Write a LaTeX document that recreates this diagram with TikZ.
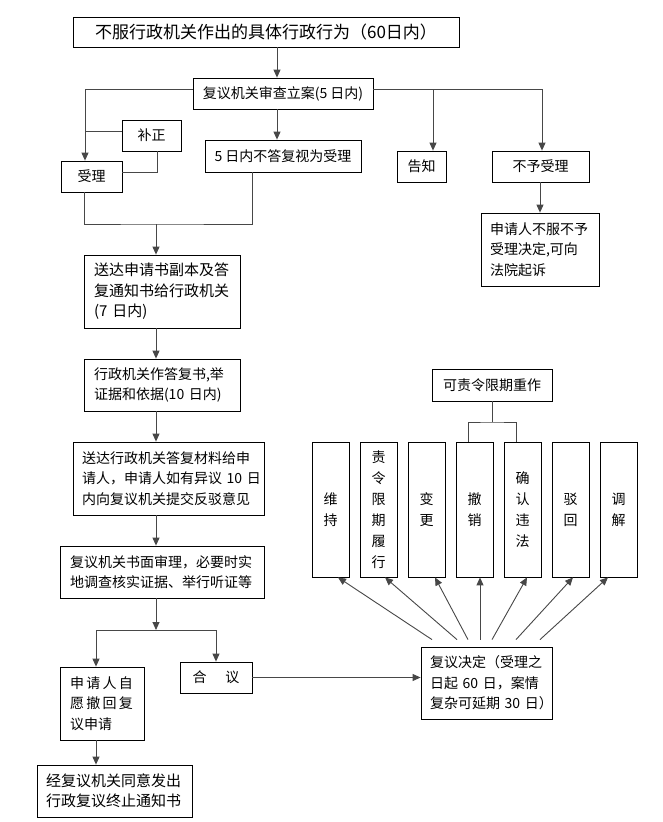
\documentclass[tikz,border=0pt]{standalone}
\usepackage{fontspec}
\newfontfamily\cjk{Noto Sans CJK SC}
\usetikzlibrary{arrows.meta,calc}
\begin{document}
\begin{tikzpicture}[x=1pt,y=-1pt,
  box/.style={draw=black, line width=0.8pt, inner sep=0pt, font=\cjk\fontsize{14}{20.5}\selectfont, align=center},
  lbox/.style={box, align=left},
  tall/.style={box, minimum width=37pt, minimum height=135pt, font=\cjk\fontsize{14}{21}\selectfont},
  ln/.style={draw=black!72, line width=0.9pt},
  arr/.style={ln, -{Triangle[length=8pt,width=7pt]}}]
\fill[white] (0,0) rectangle (662,822);
\useasboundingbox (0,0) rectangle (662,822);

% boxes
\node[box, minimum width=386pt, minimum height=30pt, font=\cjk\fontsize{17}{20}\selectfont] (top) at (266,32) {不服行政机关作出的具体行政行为（60日内）};
\node[box, minimum width=180pt, minimum height=31pt] (shen) at (283,93.5) {复议机关审查立案(5~日内)};
\node[box, minimum width=59pt, minimum height=31pt] (bz) at (151.5,135.5) {补正};
\node[box, minimum width=61pt, minimum height=31pt] (sl) at (91.5,176.5) {受理};
\node[box, minimum width=156pt, minimum height=32pt] (wr) at (283,156) {5~日内不答复视为受理};
\node[box, minimum width=49pt, minimum height=31pt] (gz) at (421.5,166.5) {告知};
\node[box, minimum width=97pt, minimum height=31pt] (by) at (540.5,166.5) {不予受理};
\node[lbox, text width=100pt, inner xsep=9pt, minimum height=73pt] (fy) at (540,249.5) {申请人不服不予\\受理决定,可向\\法院起诉};
\node[lbox, text width=136pt, inner xsep=10pt, minimum height=73pt, font=\cjk\fontsize{15}{20.5}\selectfont] (sd1) at (162,291.5) {送达申请书副本及答\\复通知书给行政机关\\(7~日内)};
\node[lbox, text width=136pt, inner xsep=10pt, minimum height=52pt] (zd) at (162,385) {行政机关作答复书,举\\证据和依据(10~日内)};
\node[lbox, text width=173pt, inner xsep=9pt, minimum height=73pt] (sd2) at (168.5,478.5) {送达行政机关答复材料给申\\请人，申请人如有异议~10~日\\内向复议机关提交反驳意见};
\node[lbox, text width=184pt, inner xsep=10pt, minimum height=52pt] (sl2) at (162,572) {复议机关书面审理，必要时实\\地调查核实证据、举行听证等};
\node[lbox, text width=64pt, inner xsep=10pt, minimum height=73pt] (ch) at (102,703.5) {申\hspace{2.3pt}请\hspace{2.3pt}人\hspace{2.3pt}自\\愿\hspace{2.3pt}撤\hspace{2.3pt}回\hspace{2.3pt}复\\议申请};
\node[lbox, text width=137pt, inner xsep=9pt, minimum height=52pt, font=\cjk\fontsize{15}{20.5}\selectfont] (zz) at (114.5,791) {经复议机关同意发出\\行政复议终止通知书};
\node[box, minimum width=72pt, minimum height=31pt] (hy) at (216,677.5) {合\hspace{19pt}议};
\node[lbox, text width=113pt, inner xsep=9pt, minimum height=72pt] (jd) at (486.5,683) {复议决定（受理之\\日起~60~日，案情\\复杂可延期~30~日）};
\node[box, minimum width=120pt, minimum height=32pt] (cz) at (492,385) {可责令限期重作};
\node[tall] (t1) at (330.5,509.5) {维\\持};
\node[tall] (t2) at (378.5,509.5) {责\\令\\限\\期\\履\\行};
\node[tall] (t3) at (426.5,509.5) {变\\更};
\node[tall] (t4) at (474.5,509.5) {撤\\销};
\node[tall] (t5) at (522.5,509.5) {确\\认\\违\\法};
\node[tall] (t6) at (570.5,509.5) {驳\\回};
\node[tall] (t7) at (618.5,509.5) {调\\解};

% junction coordinates
\coordinate (jl) at (85,131);
\coordinate (jr) at (433,89);
\coordinate (jm) at (156,224);
\coordinate (jb) at (156,630);
\coordinate (jc) at (492,422);

% connectors
\draw[arr] (top.south -| 277,0) -- (shen.north -| 277,0);
\draw[arr] (shen.west |- 0,89) -| (sl.north -| 85,0);
\draw[ln] (bz.west |- 0,131) -- (jl);
\draw[ln] (bz.south -| 157,0) |- (sl.east |- 0,172);
\draw[arr] (shen.south -| 277,0) -- (wr.north -| 277,0);
\draw[arr] (shen.east |- 0,89) -| (by.north -| 542,0);
\draw[arr] (jr) -- (gz.north -| jr);
\draw[arr] (by.south -| 540,0) -- (fy.north -| 540,0);
\draw[ln] (sl.south -| 84,0) |- (jm) -| (wr.south -| 252,0);
\draw[arr] (jm) -- (sd1.north -| jm);
\draw[arr] (sd1.south -| jm) -- (zd.north -| jm);
\draw[arr] (zd.south -| jm) -- (sd2.north -| jm);
\draw[arr] (sd2.south -| jm) -- (sl2.north -| jm);
\draw[arr] (sl2.south -| jb) -- (jb);
\draw[arr] (jb) -| (ch.north -| 96,0);
\draw[arr] (jb) -| (hy.north -| 216,0);
\draw[arr] (ch.south -| 96,0) -- (zz.north -| 96,0);
\draw[arr] (hy.east) -- (jd.west |- hy.east);
\draw[ln] (cz.south) -- (jc);
\draw[ln] (t4.north -| 468,0) |- (jc) -| (t5.north -| 516,0);
\foreach \i/\sx/\ex in {1/432/338, 2/457/385, 3/468/435, 4/480/480, 5/492/527, 6/516/573, 7/540/608}
  \draw[arr] (jd.north -| \sx,0) ++(0,-7) -- (t\i.south -| \ex,0);
\end{tikzpicture}
\end{document}
